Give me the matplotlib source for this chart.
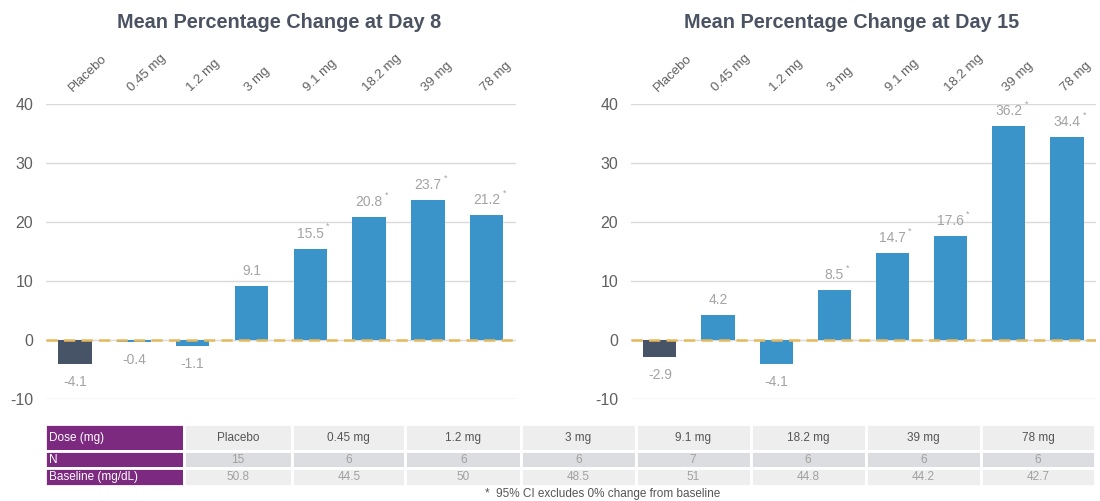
import matplotlib
matplotlib.use("Agg")
import matplotlib.pyplot as plt

plt.rcParams["font.family"] = ["Liberation Sans", "DejaVu Sans"]
plt.rcParams["axes.unicode_minus"] = False

doses = ["Placebo", "0.45 mg", "1.2 mg", "3 mg", "9.1 mg", "18.2 mg", "39 mg", "78 mg"]
day8_change = [-4.1, -0.4, -1.1, 9.1, 15.5, 20.8, 23.7, 21.2]
day8_signif = [False, False, False, False, True, True, True, True]
day15_change = [-2.9, 4.2, -4.1, 8.5, 14.7, 17.6, 36.2, 34.4]
day15_signif = [False, False, False, True, True, True, True, True]

n_subjects = ["15", "6", "6", "6", "7", "6", "6", "6"]
baseline = ["50.8", "44.5", "50", "48.5", "51", "44.8", "44.2", "42.7"]
row_labels = ["Dose (mg)", "N", "Baseline (mg/dL)"]

BLUE = "#3a94c9"
SLATE = "#475468"
GOLD = "#e8b95a"
GRID = "#dadada"
LABEL = "#a3a3a3"
TEXT = "#606060"
PURPLE = "#7b2a80"


def draw_panel(ax, values, signif):
    x = list(range(len(doses)))
    colors = [SLATE] + [BLUE] * (len(doses) - 1)
    ax.bar(x, values, width=0.57, color=colors, zorder=2)
    ax.axhline(0, color=GOLD, lw=1.8, ls=(0, (4.5, 2.5)), zorder=3)

    ax.set_xlim(-0.5, len(doses) - 0.5)
    ax.set_ylim(-10, 40)
    ax.set_yticks([-10, 0, 10, 20, 30, 40])
    ax.yaxis.grid(True, color=GRID, lw=1, zorder=0)
    ax.set_axisbelow(True)
    for s in ax.spines.values():
        s.set_visible(False)

    ax.xaxis.tick_top()
    ax.set_xticks(x)
    ax.set_xticklabels(doses, rotation=44, ha="left", va="bottom",
                       rotation_mode="anchor", fontsize=9.5, color=TEXT)
    ax.tick_params(axis="x", length=0, pad=7)
    ax.tick_params(axis="y", length=0, pad=9, labelsize=11.5, labelcolor=TEXT)

    for i, (v, star) in enumerate(zip(values, signif)):
        off = 10.8 if v >= 0 else -12.6
        lab = ax.annotate(f"{v}", xy=(i, v), xytext=(0, off),
                          textcoords="offset points", ha="center", va="center",
                          fontsize=10, color=LABEL)
        if star:
            ax.annotate("*", xy=(1, 1), xycoords=lab, xytext=(1.5, 0),
                        textcoords="offset points", ha="left", va="center",
                        fontsize=6.5, color=LABEL)


fig = plt.figure(figsize=(11, 5.01), dpi=100)

ax1 = fig.add_axes([0.0415, 0.2036, 0.4277, 0.5888])
ax2 = fig.add_axes([0.5734, 0.2036, 0.4230, 0.5888])
draw_panel(ax1, day8_change, day8_signif)
draw_panel(ax2, day15_change, day15_signif)

fig.text(279 / 1100, 1 - 23 / 501, "Mean Percentage Change at Day 8",
         ha="center", va="center", fontsize=14.3, fontweight="bold", color="#4b5363")
fig.text(852 / 1100, 1 - 23 / 501, "Mean Percentage Change at Day 15",
         ha="center", va="center", fontsize=14.3, fontweight="bold", color="#4b5363")

# dose table
tax = fig.add_axes([0.0409, 0.0299, 0.9545, 0.1238])
tax.axis("off")
cell_text = [[row_labels[0]] + doses,
             [row_labels[1]] + n_subjects,
             [row_labels[2]] + baseline]
col_widths = [139, 108, 113, 116, 114, 115, 115, 115, 114]
row_heights = [27, 16, 18]
row_bg = ["#eeeeef", "#dcdde0", "#eeeeef"]
row_fg = ["#555555", "#a0a0a0", "#a0a0a0"]

tbl = tax.table(cellText=cell_text, colWidths=col_widths, cellLoc="center",
                bbox=[0, 0, 1, 1])
tbl.auto_set_font_size(False)
for (r, c), cell in tbl.get_celld().items():
    cell.set_height(row_heights[r])
    cell.set_edgecolor("white")
    cell.set_linewidth(2)
    txt = cell.get_text()
    txt.set_fontsize(8.5)
    if c == 0:
        cell.set_facecolor(PURPLE)
        txt.set_color("white")
        txt.set_ha("left")
        cell.PAD = 0.03
        cell._loc = "left"
    else:
        cell.set_facecolor(row_bg[r])
        txt.set_color(row_fg[r])

fig.text(603 / 1100, 1 - 494 / 501, "*  95% CI excludes 0% change from baseline",
         ha="center", va="center", fontsize=8.5, color="#555555")

fig.savefig("out.png", dpi=100)
